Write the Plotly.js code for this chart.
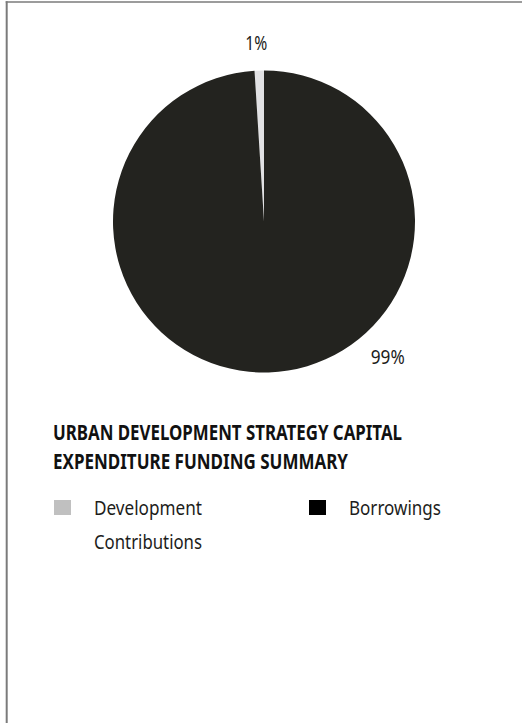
<!DOCTYPE html>
<html>
<head>
<meta charset="utf-8">
<script src="https://cdn.plot.ly/plotly-3.0.1.min.js"></script>
<style>
  html, body { margin: 0; padding: 0; background: #ffffff; }
  #chart { width: 522px; height: 723px; }
</style>
</head>
<body>
<div id="chart"></div>
<script>
// ---- data ----
const categories = ['Development Contributions', 'Borrowings'];
const values = [1, 99];
const sliceColors = ['#e1e1e3', '#23231f'];
const legendColors = ['#c0c0c0', '#000000'];
const titleLines = ['URBAN DEVELOPMENT STRATEGY CAPITAL', 'EXPENDITURE FUNDING SUMMARY'];

// ---- layout helpers (pixel -> paper) ----
const W = 522, H = 723;
const px = x => x / W;
const py = y => 1 - y / H;
const FONT = '"Noto Sans", "Open Sans", sans-serif';
const TXT = '#1d1d1b';

const total = values.reduce((a, b) => a + b, 0);
const pctText = values.map(v => Math.round(v / total * 100) + '%');

const trace = {
  type: 'pie',
  labels: categories,
  values: values,
  sort: false,
  direction: 'clockwise',
  rotation: -360 * values[0] / total,
  textinfo: 'none',
  hoverinfo: 'label+percent',
  marker: { colors: sliceColors, line: { width: 0 } },
  domain: { x: [px(113), px(415)], y: [py(372.5), py(70.5)] },
  showlegend: false
};

// target rendered text widths (style, px) to mimic the condensed face
const widthFor = {};
widthFor[pctText[0]] = 22;
widthFor[pctText[1]] = 34;
widthFor['Development'] = 108;
widthFor['Contributions'] = 108;
widthFor['Borrowings'] = 92;
const titleWidths = [349, 295];

// percentage label positions (style)
const pctPos = [[256, 43], [388, 357]];
const annotations = pctText.map((t, i) => ({
  text: t, xref: 'paper', yref: 'paper',
  x: px(pctPos[i][0]), y: py(pctPos[i][1]),
  xanchor: 'center', yanchor: 'middle', showarrow: false,
  font: { family: FONT, size: 19, color: TXT }
}));

// custom legend
const legendMarkX = [54, 309];
const legendTextX = [92, 347];
const legendTop = 500;
const lineGap = 34;
const shapes = [];
categories.forEach((c, i) => {
  shapes.push({
    type: 'rect', xref: 'paper', yref: 'paper',
    x0: px(legendMarkX[i]), x1: px(legendMarkX[i] + 17),
    y0: py(legendTop + 15), y1: py(legendTop),
    fillcolor: legendColors[i], line: { width: 0 }
  });
  const lines = (i === 0) ? c.split(' ') : [c];
  lines.forEach((ln, k) => {
    annotations.push({
      text: ln, xref: 'paper', yref: 'paper',
      x: px(legendTextX[i]), y: py(508 + k * lineGap),
      xanchor: 'left', yanchor: 'middle', align: 'left', showarrow: false,
      font: { family: FONT, size: 19, color: TXT }
    });
  });
});

// frame border
shapes.push({ type: 'line', xref: 'paper', yref: 'paper', x0: px(6.7), x1: px(6.7), y0: 0, y1: py(1.3), line: { color: '#7b7b7b', width: 2 } });
shapes.push({ type: 'line', xref: 'paper', yref: 'paper', x0: px(5.7), x1: 1, y0: py(2), y1: py(2), line: { color: '#7b7b7b', width: 1.5 } });

const layout = {
  width: W, height: H,
  margin: { l: 0, r: 0, t: 0, b: 0 },
  paper_bgcolor: '#ffffff',
  plot_bgcolor: '#ffffff',
  showlegend: false,
  title: {
    text: titleLines.join('<br>'),
    x: px(53), xref: 'paper', xanchor: 'left',
    y: py(440), yref: 'paper', yanchor: 'top',
    font: { family: FONT, size: 22, color: '#111111', weight: 'bold' }
  },
  annotations: annotations,
  shapes: shapes
};

function squash(el, w) {
  el.setAttribute('textLength', w);
  el.setAttribute('lengthAdjust', 'spacingAndGlyphs');
}

Plotly.newPlot('chart', [trace], layout, { displayModeBar: false, staticPlot: true }).then(gd => {
  gd.querySelectorAll('.annotation-text').forEach(el => {
    const w = widthFor[el.textContent];
    if (w) squash(el, w);
  });
  const t = gd.querySelector('.gtitle');
  if (t) {
    const lines = t.querySelectorAll('tspan.line');
    if (lines.length) lines.forEach((ln, i) => squash(ln, titleWidths[i]));
  }
});
</script>
</body>
</html>
